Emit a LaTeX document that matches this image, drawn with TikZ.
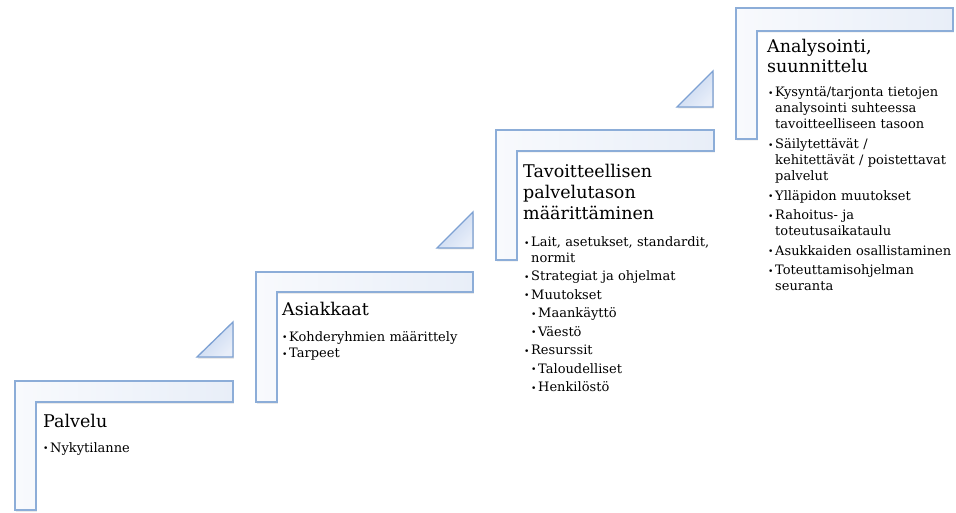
\documentclass[tikz,border=0pt]{standalone}
\usepackage{fontspec,graphicx}
\setmainfont{DejaVu Serif}
\usetikzlibrary{shadows}
\definecolor{EDGE}{HTML}{8CADD8}
\definecolor{PALE}{HTML}{E8EEF8}
\definecolor{TRIDARK}{HTML}{C0D2EE}
\definecolor{TRILIGHT}{HTML}{E8EEF9}
\definecolor{TRIEDGE}{HTML}{7DA1D3}

\newlength{\bulw}\setlength{\bulw}{7pt}
\newcommand{\bul}{\makebox[\bulw][l]{\raisebox{.5pt}{\scalebox{.7}{\textbullet}}}}
\newcommand{\ind}{\hspace*{\bulw}}

\begin{document}
\begin{tikzpicture}[x=1pt, y=-1pt,
	stepshape/.style={draw=EDGE, line width=1.5pt, left color=PALE!30, right color=PALE, drop shadow={opacity=.25, shadow xshift=.8pt, shadow yshift=-1.5pt}},
	arrowtri/.style={draw=TRIEDGE, line width=1.3pt, left color=TRIDARK, right color=TRILIGHT, shading angle=45, drop shadow={opacity=.25, shadow xshift=.8pt, shadow yshift=-1.5pt}},
	every node/.style={inner sep=0pt, anchor=base west, text=black},
	headline/.style={font=\fontsize{17.5}{21}\selectfont, text width=190pt, align=left},
	itemlist/.style={font=\fontsize{13}{15.5}\selectfont, text width=200pt, align=left}]
				\useasboundingbox (0,0) rectangle (956,513);

				% steps
				\path [stepshape] (15,381) -- (233,381) -- (233,402) -- (36,402) -- (36,510) -- (15,510) -- cycle;
				\path [stepshape] (256,272) -- (473,272) -- (473,292) -- (277,292) -- (277,402) -- (256,402) -- cycle;
				\path [stepshape] (496,130) -- (714,130) -- (714,151) -- (517,151) -- (517,260) -- (496,260) -- cycle;
				\path [stepshape] (736,8) -- (953,8) -- (953,31) -- (757,31) -- (757,139) -- (736,139) -- cycle;

				% triangles
				\path [arrowtri] (197,357) -- (233,357) -- (233,322) -- cycle;
				\path [arrowtri] (437,248) -- (473,248) -- (473,212) -- cycle;
				\path [arrowtri] (677,107) -- (713,107) -- (713,71) -- cycle;

				% texts
				\node [headline] (palvelu) at (43,427) {Palvelu};
				\node [itemlist] (palvelulist) at (43,452) {\bul Nykytilanne};

				\node [headline] (asiakkaat) at (282,315) {Asiakkaat};
				\node [itemlist] (asiakkaatlist) at (282,341) {\bul Kohderyhmien määrittely\\[1.5pt]
					\bul Tarpeet};

				\node [headline] (tavoite) at (523,178) {Tavoitteellisen\\palvelutason\\määrittäminen};
				\node [itemlist] (tavoitelist) at (524,247) {\bul Lait, asetukset, standardit,\\
					\ind normit\\[3pt]
					\bul Strategiat ja ohjelmat\\[3pt]
					\bul Muutokset\\[3pt]
					\ind\bul Maankäyttö\\[3pt]
					\ind\bul Väestö\\[3pt]
					\bul Resurssit\\[3pt]
					\ind\bul Taloudelliset\\[3pt]
					\ind\bul Henkilöstö};

				\node [headline, font=\fontsize{17.5}{20}\selectfont] (analyysi) at (767,53) {Analysointi,\\suunnittelu};
				\node [itemlist, font=\fontsize{13}{16}\selectfont] (analyysilist) at (768,97) {\bul Kysyntä/tarjonta tietojen\\
					\ind analysointi suhteessa\\
					\ind tavoitteelliseen tasoon\\[4pt]
					\bul Säilytettävät /\\
					\ind kehitettävät / poistettavat\\
					\ind palvelut\\[3.5pt]
					\bul Ylläpidon muutokset\\[3.5pt]
					\bul Rahoitus- ja\\
					\ind toteutusaikataulu\\[3.5pt]
					\bul Asukkaiden osallistaminen\\[3.5pt]
					\bul Toteuttamisohjelman\\
					\ind seuranta};
			\end{tikzpicture}
\end{document}
